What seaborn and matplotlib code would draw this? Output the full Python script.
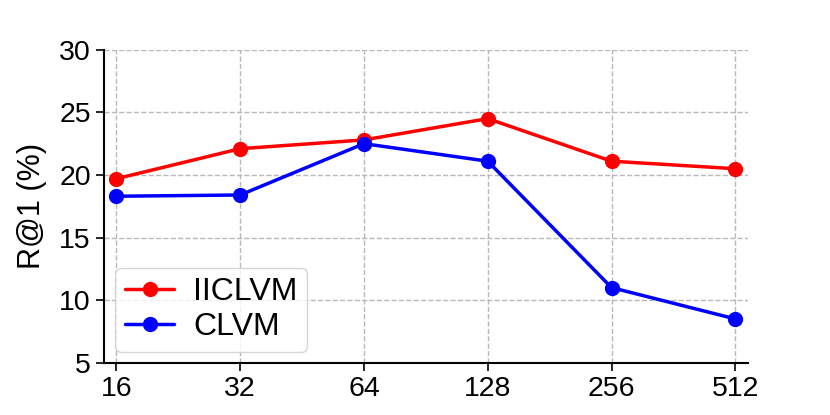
import numpy as np
import pandas as pd
import matplotlib
matplotlib.use("Agg")
import matplotlib.pyplot as plt
import seaborn as sns

# data
dims = ["16", "32", "64", "128", "256", "512"]
iiclvm = [19.7, 22.1, 22.8, 24.5, 21.1, 20.5]
clvm = [18.3, 18.4, 22.5, 21.1, 11.0, 8.5]
yticks = [5, 10, 15, 20, 25, 30]

sns.set_style("ticks")
plt.rcParams['font.family'] = ['Liberation Sans', 'DejaVu Sans']
plt.rcParams.update({"text.color": "black", "axes.labelcolor": "black",
                     "xtick.color": "black", "ytick.color": "black"})

df = pd.DataFrame({"dim": dims, "IICLVM": iiclvm, "CLVM": clvm})

fig = plt.figure(figsize=(8.3, 4.15), dpi=100)
ax = fig.add_axes([0.1253, 0.126, 0.7755, 0.754])

sns.lineplot(data=df, x="dim", y="IICLVM", ax=ax, color="#ff0000", marker="o",
             markersize=11, markeredgewidth=0, linewidth=2.5, label="IICLVM", sort=False)
sns.lineplot(data=df, x="dim", y="CLVM", ax=ax, color="#0000ff", marker="o",
             markersize=11, markeredgewidth=0, linewidth=2.5, label="CLVM", sort=False)

ax.set_xlim(-0.1, 5.1)
ax.set_ylim(5, 30)
ax.set_yticks(yticks)
ax.set_xlabel("")
ax.set_ylabel("R@1 (%)", fontsize=22, labelpad=9)
ax.tick_params(axis="both", labelsize=20.5, length=6, width=1.2, direction="out")
ax.grid(True, linestyle="--", color="#b8b8b8", linewidth=1)
for s in ["top", "right"]:
    ax.spines[s].set_visible(False)
for s in ["left", "bottom"]:
    ax.spines[s].set_linewidth(1.5)
    ax.spines[s].set_color("black")

ax.legend(loc="lower left", fontsize=23, frameon=True, handlelength=1.55,
          borderpad=0.3, labelspacing=0.15, handletextpad=0.6,
          borderaxespad=0.35)

fig.savefig("out.png", dpi=100)
